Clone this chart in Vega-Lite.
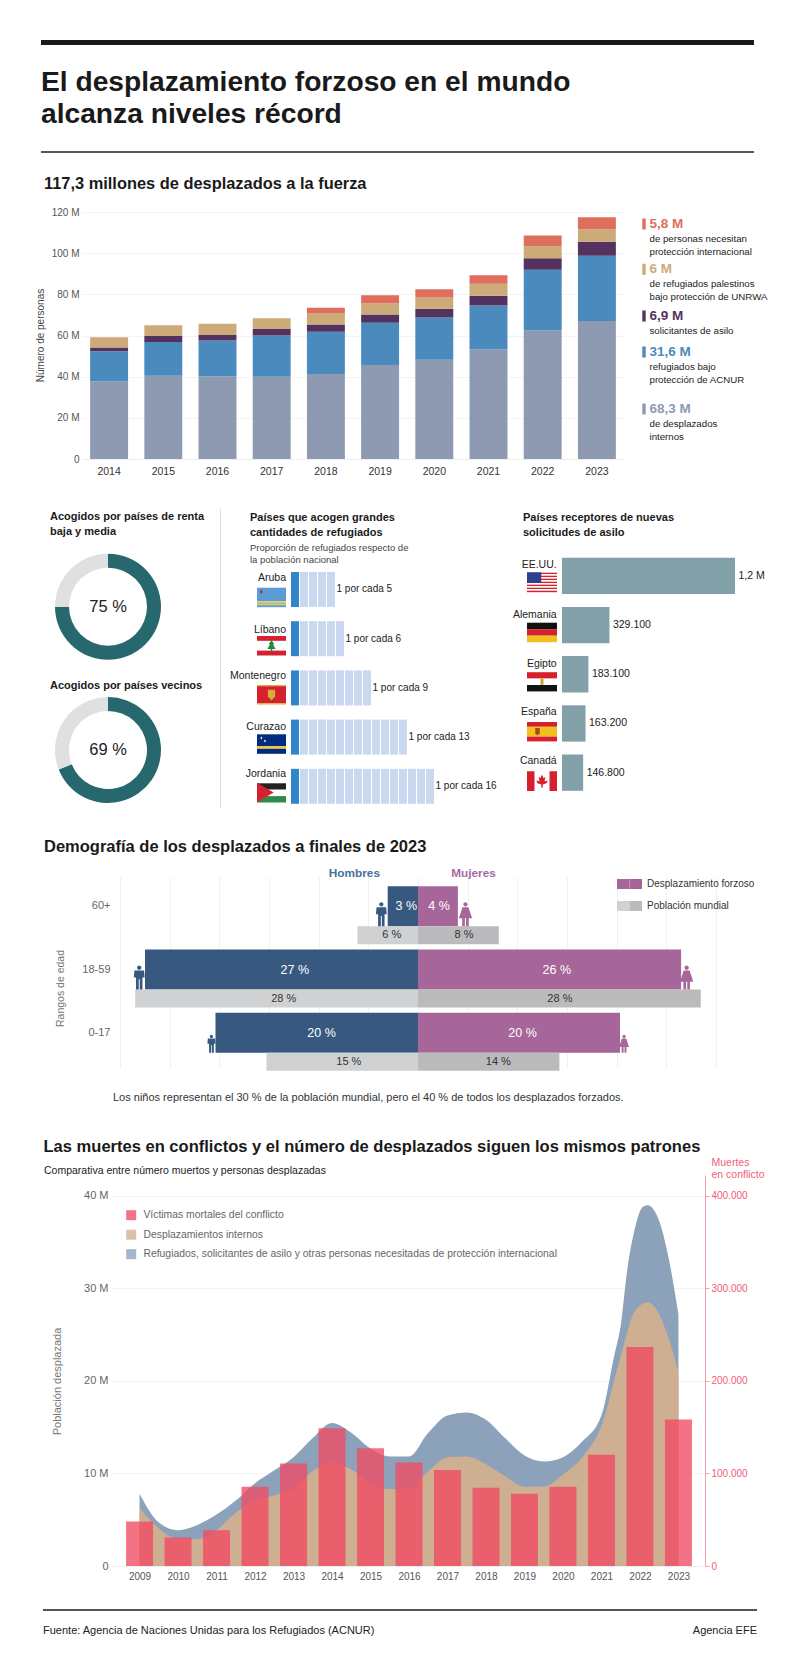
{"$schema":"https://vega.github.io/schema/vega-lite/v6.json","padding":0,"background":"white","spacing":0,"bounds":"flush","resolve":{"scale":{"color":"independent","shape":"independent","fill":"independent"}},"config":{"view":{"stroke":null},"font":"Liberation Sans","title":{"font":"Liberation Sans"},"axis":{"labelFont":"Liberation Sans","titleFont":"Liberation Sans"},"legend":{"labelFont":"Liberation Sans"}},
"vconcat":[
{"width":1,"height":40,"data":{"values":[{}]},"mark":{"type":"text"},"encoding":{"text":{"value":""}}},
{"spacing":0,"bounds":"flush","hconcat":[
 {"width":41,"height":1,"data":{"values":[{}]},"mark":{"type":"text"},"encoding":{"text":{"value":""}}},
 {"width":713,"height":5,"view":{"fill":"#1a1a1a","stroke":null},"data":{"values":[{}]},"mark":{"type":"text"},"encoding":{"text":{"value":""}}}
]},
{"width":1,"height":111,"data":{"values":[{}]},"mark":{"type":"text"},"encoding":{"text":{"value":""}}},
{"spacing":0,"bounds":"flush","hconcat":[
 {"width":41,"height":1,"title":{"text":["El desplazamiento forzoso en el mundo","alcanza niveles récord"],"anchor":"start","frame":"group","baseline":"alphabetic","offset":-5.2,"dx":41,"fontSize":28.2,"lineHeight":32,"fontWeight":"bold","color":"#1a1a1a"},"data":{"values":[{}]},"mark":{"type":"text"},"encoding":{"text":{"value":""}}},
 {"width":713,"height":2,"view":{"fill":"#555555","stroke":null},"data":{"values":[{}]},"mark":{"type":"text"},"encoding":{"text":{"value":""}}}
]},
{"width":1,"height":61,"data":{"values":[{}]},"mark":{"type":"text"},"encoding":{"text":{"value":""}}},
{"spacing":0,"bounds":"flush","resolve":{"scale":{"color":"independent"}},"hconcat":[
 {"width":44,"height":1,"title":{"text":"117,3 millones de desplazados a la fuerza","anchor":"start","frame":"group","baseline":"alphabetic","offset":1.6,"dx":44,"fontSize":16.4,"fontWeight":"bold","color":"#1a1a1a"},"data":{"values":[{}]},"mark":{"type":"text"},"encoding":{"text":{"value":""}}},
 {"width":38,"height":1,"data":{"values":[{}]},"mark":{"type":"text"},"encoding":{"text":{"value":""}}},
 {"width":542,"height":247,
  "data":{"values":[
  {"anio":"2014","categoria":"internos","orden":1,"valor":37.8},{"anio":"2014","categoria":"acnur","orden":2,"valor":14.6},{"anio":"2014","categoria":"asilo","orden":3,"valor":1.8},{"anio":"2014","categoria":"unrwa","orden":4,"valor":5.0},
  {"anio":"2015","categoria":"internos","orden":1,"valor":40.5},{"anio":"2015","categoria":"acnur","orden":2,"valor":16.3},{"anio":"2015","categoria":"asilo","orden":3,"valor":2.9},{"anio":"2015","categoria":"unrwa","orden":4,"valor":5.3},
  {"anio":"2016","categoria":"internos","orden":1,"valor":40.2},{"anio":"2016","categoria":"acnur","orden":2,"valor":17.4},{"anio":"2016","categoria":"asilo","orden":3,"valor":2.6},{"anio":"2016","categoria":"unrwa","orden":4,"valor":5.5},
  {"anio":"2017","categoria":"internos","orden":1,"valor":39.9},{"anio":"2017","categoria":"acnur","orden":2,"valor":20.1},{"anio":"2017","categoria":"asilo","orden":3,"valor":3.1},{"anio":"2017","categoria":"unrwa","orden":4,"valor":5.3},
  {"anio":"2018","categoria":"internos","orden":1,"valor":41.3},{"anio":"2018","categoria":"acnur","orden":2,"valor":20.5},{"anio":"2018","categoria":"asilo","orden":3,"valor":3.5},{"anio":"2018","categoria":"unrwa","orden":4,"valor":5.4},{"anio":"2018","categoria":"proteccion","orden":5,"valor":2.8},
  {"anio":"2019","categoria":"internos","orden":1,"valor":45.7},{"anio":"2019","categoria":"acnur","orden":2,"valor":20.5},{"anio":"2019","categoria":"asilo","orden":3,"valor":4.0},{"anio":"2019","categoria":"unrwa","orden":4,"valor":5.5},{"anio":"2019","categoria":"proteccion","orden":5,"valor":3.8},
  {"anio":"2020","categoria":"internos","orden":1,"valor":48.2},{"anio":"2020","categoria":"acnur","orden":2,"valor":20.6},{"anio":"2020","categoria":"asilo","orden":3,"valor":4.2},{"anio":"2020","categoria":"unrwa","orden":4,"valor":5.5},{"anio":"2020","categoria":"proteccion","orden":5,"valor":4.0},
  {"anio":"2021","categoria":"internos","orden":1,"valor":53.2},{"anio":"2021","categoria":"acnur","orden":2,"valor":21.4},{"anio":"2021","categoria":"asilo","orden":3,"valor":4.7},{"anio":"2021","categoria":"unrwa","orden":4,"valor":5.8},{"anio":"2021","categoria":"proteccion","orden":5,"valor":4.2},
  {"anio":"2022","categoria":"internos","orden":1,"valor":62.4},{"anio":"2022","categoria":"acnur","orden":2,"valor":29.5},{"anio":"2022","categoria":"asilo","orden":3,"valor":5.6},{"anio":"2022","categoria":"unrwa","orden":4,"valor":5.8},{"anio":"2022","categoria":"proteccion","orden":5,"valor":5.3},
  {"anio":"2023","categoria":"internos","orden":1,"valor":67.1},{"anio":"2023","categoria":"acnur","orden":2,"valor":31.7},{"anio":"2023","categoria":"asilo","orden":3,"valor":6.8},{"anio":"2023","categoria":"unrwa","orden":4,"valor":6.0},{"anio":"2023","categoria":"proteccion","orden":5,"valor":5.8}
  ]},
  "mark":{"type":"bar"},
  "encoding":{
   "x":{"field":"anio","type":"ordinal","scale":{"paddingInner":0.3,"paddingOuter":0.15},"axis":{"title":null,"labelAngle":0,"labelFontSize":10.5,"labelColor":"#333333","labelPadding":7,"ticks":false,"domainColor":"#eeeeee"}},
   "y":{"field":"valor","type":"quantitative","stack":"zero","scale":{"domain":[0,120]},"axis":{"values":[0,20,40,60,80,100,120],"labelExpr":"datum.value==0?'0':datum.value+' M'","labelFontSize":10,"labelColor":"#555555","labelPadding":3,"ticks":false,"domain":false,"grid":true,"gridColor":"#f3f3f3","title":"Número de personas","titleFontSize":10,"titleFontWeight":"normal","titleColor":"#444444","titleX":-37,"titleY":123}},
   "color":{"field":"categoria","type":"nominal","legend":null,"scale":{"domain":["internos","acnur","asilo","unrwa","proteccion"],"range":["#8E9AB2","#4A8ABC","#53325F","#CDAB78","#DE6F5C"]}},
   "order":{"field":"orden","type":"quantitative"}
  }},
 {"width":18,"height":1,"data":{"values":[{}]},"mark":{"type":"text"},"encoding":{"text":{"value":""}}},
 {"width":100,"height":247,
  "data":{"values":[
   {"orden":1,"categoria":"proteccion","cifra":"5,8 M","texto":"de personas necesitan\nprotección internacional"},
   {"orden":2,"categoria":"unrwa","cifra":"6 M","texto":"de refugiados palestinos\nbajo protección de UNRWA"},
   {"orden":3,"categoria":"asilo","cifra":"6,9 M","texto":"solicitantes de asilo"},
   {"orden":4,"categoria":"acnur","cifra":"31,6 M","texto":"refugiados bajo\nprotección de ACNUR"},
   {"orden":5,"categoria":"internos","cifra":"68,3 M","texto":"de desplazados\ninternos"}]},
  "encoding":{
   "y":{"field":"orden","type":"quantitative","axis":null,"scale":{"domain":[1,2,3,4,5],"range":[12,57.3,104,140,197]}},
   "color":{"field":"categoria","type":"nominal","legend":null,"scale":{"domain":["internos","acnur","asilo","unrwa","proteccion"],"range":["#8E9AB2","#4A8ABC","#53325F","#CDAB78","#DE6F5C"]}}
  },
  "layer":[
   {"mark":{"type":"rect","width":3.4,"height":11},"encoding":{"x":{"datum":2,"type":"quantitative","axis":null,"scale":{"domain":[0,100],"range":[0,100]}}}},
   {"mark":{"type":"text","align":"left","baseline":"middle","fontSize":13.5,"fontWeight":"bold"},"encoding":{"x":{"datum":7.5,"type":"quantitative"},"text":{"field":"cifra"}}},
   {"mark":{"type":"text","align":"left","baseline":"alphabetic","fontSize":9.7,"lineHeight":13,"lineBreak":"\n","dy":18},"encoding":{"x":{"datum":7.5,"type":"quantitative"},"text":{"field":"texto"},"color":{"value":"#222222"}}}
  ]}
]},
{"width":1,"height":297,"data":{"values":[{}]},"mark":{"type":"text"},"encoding":{"text":{"value":""}}},
{"spacing":0,"bounds":"flush","resolve":{"scale":{"color":"independent","shape":"independent","fill":"independent"}},"hconcat":[
 {"width":50,"height":1,"data":{"values":[{}]},"mark":{"type":"text"},"encoding":{"text":{"value":""}}},
 {"width":116,"height":299,
  "encoding":{"y":{"field":"orden","type":"quantitative","stack":null,"axis":null,"scale":{"domain":[1,2,3,4],"range":[11,97.7,180,241]}}},
  "layer":[
   {"data":{"values":[{"orden":1,"texto":"Acogidos por países de renta\nbaja y media"},{"orden":3,"texto":"Acogidos por países vecinos"}]},
    "mark":{"type":"text","align":"left","baseline":"alphabetic","fontSize":11,"fontWeight":"bold","lineHeight":15,"lineBreak":"\n","color":"#1a1a1a"},
    "encoding":{"x":{"datum":0,"type":"quantitative","axis":null,"scale":{"domain":[0,1],"range":[0,116]}},"text":{"field":"texto"}}},
   {"data":{"values":[{"orden":2,"tipo":"a acogidos","valor":75},{"orden":2,"tipo":"b resto","valor":25},{"orden":4,"tipo":"a acogidos","valor":69},{"orden":4,"tipo":"b resto","valor":31}]},
    "transform":[{"stack":"valor","groupby":["orden"],"sort":[{"field":"tipo"}],"as":["inicio","fin"]}],
    "mark":{"type":"arc","innerRadius":39,"outerRadius":53},
    "encoding":{"x":{"datum":0.5,"type":"quantitative","stack":null},"theta":{"field":"inicio","type":"quantitative","stack":null,"scale":{"domain":[0,100],"range":[0,6.28319]}},"theta2":{"field":"fin"},"color":{"field":"tipo","type":"nominal","legend":null,"scale":{"domain":["a acogidos","b resto"],"range":["#27686E","#E0E0E0"]}}}},
   {"data":{"values":[{"orden":2,"texto":"75 %"},{"orden":4,"texto":"69 %"}]},
    "mark":{"type":"text","align":"center","baseline":"middle","fontSize":16.5,"color":"#222222"},
    "encoding":{"x":{"datum":0.5,"type":"quantitative"},"text":{"field":"texto"}}}
  ]},
 {"width":54,"height":1,"data":{"values":[{}]},"mark":{"type":"text"},"encoding":{"text":{"value":""}}},
 {"width":1,"height":299,"view":{"fill":"#dddddd","stroke":null},"data":{"values":[{}]},"mark":{"type":"text"},"encoding":{"text":{"value":""}}},
 {"width":29,"height":1,"data":{"values":[{}]},"mark":{"type":"text"},"encoding":{"text":{"value":""}}},
 {"width":7,"height":299,
  "encoding":{"y":{"field":"orden","type":"quantitative","axis":null,"scale":{"domain":[1,2,3,4,5,6,7],"range":[11.7,42,69,121,166.7,217.7,265]}}},
  "layer":[
   {"data":{"values":[{"orden":1,"texto":"Países que acogen grandes\ncantidades de refugiados"}]},"mark":{"type":"text","align":"left","baseline":"alphabetic","fontSize":11,"fontWeight":"bold","lineHeight":15,"lineBreak":"\n","color":"#1a1a1a"},"encoding":{"x":{"datum":0,"type":"quantitative","axis":null,"scale":{"domain":[0,1],"range":[0,36]}},"text":{"field":"texto"}}},
   {"data":{"values":[{"orden":2,"texto":"Proporción de refugiados respecto de\nla población nacional"}]},"mark":{"type":"text","align":"left","baseline":"alphabetic","fontSize":9.5,"lineHeight":12,"lineBreak":"\n","color":"#444444"},"encoding":{"x":{"datum":0,"type":"quantitative"},"text":{"field":"texto"}}},
   {"data":{"values":[{"orden":3,"texto":"Aruba"},{"orden":4,"texto":"Líbano"},{"orden":5,"texto":"Montenegro"},{"orden":6,"texto":"Curazao"},{"orden":7,"texto":"Jordania"}]},"mark":{"type":"text","align":"right","baseline":"middle","fontSize":10.5,"color":"#222222"},"encoding":{"x":{"datum":1,"type":"quantitative"},"text":{"field":"texto"}}}
  ]},
 {"width":29,"height":299,
  "layer":[
   {"data":{"values":[
    {"columna":"bandera","fila":1,"franja":"hueco","alto":78.7},
    {"columna":"bandera","fila":2,"franja":"azul claro","alto":13.5},{"columna":"bandera","fila":3,"franja":"amarillo","alto":1.5},{"columna":"bandera","fila":4,"franja":"azul claro","alto":1},{"columna":"bandera","fila":5,"franja":"amarillo","alto":1.5},{"columna":"bandera","fila":6,"franja":"azul claro","alto":2},
    {"columna":"bandera","fila":7,"franja":"hueco","alto":28.8},
    {"columna":"bandera","fila":8,"franja":"rojo","alto":4.9},{"columna":"bandera","fila":9,"franja":"blanco","alto":9.7},{"columna":"bandera","fila":10,"franja":"rojo","alto":4.9},
    {"columna":"bandera","fila":11,"franja":"hueco","alto":29.5},
    {"columna":"bandera","fila":12,"franja":"oro","alto":1.2},{"columna":"bandera","fila":13,"franja":"rojo","alto":17.1},{"columna":"bandera","fila":14,"franja":"oro","alto":1.2},
    {"columna":"bandera","fila":15,"franja":"hueco","alto":29.8},
    {"columna":"bandera","fila":16,"franja":"azul oscuro","alto":12},{"columna":"bandera","fila":17,"franja":"amarillo","alto":2.5},{"columna":"bandera","fila":18,"franja":"azul oscuro","alto":5},
    {"columna":"bandera","fila":19,"franja":"hueco","alto":29.5},
    {"columna":"bandera","fila":20,"franja":"negro","alto":6.4},{"columna":"bandera","fila":21,"franja":"blanco","alto":6.4},{"columna":"bandera","fila":22,"franja":"verde","alto":6.4}
   ]},
   "mark":{"type":"bar"},
   "encoding":{
    "x":{"field":"columna","type":"nominal","axis":null,"scale":{"paddingInner":0,"paddingOuter":0}},
    "y":{"field":"alto","type":"quantitative","stack":"zero","axis":null,"scale":{"domain":[0,299],"range":[0,299]}},
    "order":{"field":"fila","type":"quantitative"},
    "color":{"field":"franja","type":"nominal","legend":null,"scale":{"domain":["hueco","azul claro","amarillo","rojo","blanco","oro","azul oscuro","negro","verde"],"range":["transparent","#5A9BD8","#F2C832","#D5212E","#FFFFFF","#D4AF37","#002B7F","#222222","#2E8B48"]}}
   }},
   {"data":{"values":[
    {"orden":1,"detalle":"estrella aruba","tono":"r"},{"orden":2,"detalle":"cedro","tono":"v"},{"orden":3,"detalle":"escudo","tono":"o"},{"orden":4,"detalle":"estrellas curazao","tono":"b"},{"orden":5,"detalle":"triangulo","tono":"r"}]},
   "mark":{"type":"point","filled":true,"opacity":1,"strokeWidth":0,"size":841},
   "encoding":{
    "y":{"field":"orden","type":"quantitative","axis":null,"scale":{"domain":[1,2,3,4,5],"range":[88.5,137,185.7,234.8,283.5]}},
    "shape":{"field":"detalle","type":"nominal","legend":null,"scale":{"domain":["estrella aruba","cedro","escudo","estrellas curazao","triangulo"],"range":["M-0.7,-0.55L-0.6,-0.4L-0.7,-0.25L-0.8,-0.4Z","M0,-0.4L0.2,-0.12H0.1L0.28,0.2H0.05V0.4H-0.05V0.2H-0.28L-0.1,-0.12H-0.2Z","M-0.25,-0.35H0.25V0.1L0,0.4L-0.25,0.1Z","M-0.7,-0.5L-0.63,-0.4L-0.7,-0.3L-0.77,-0.4ZM-0.45,-0.3L-0.38,-0.2L-0.45,-0.1L-0.52,-0.2Z","M-1,-0.67L0.15,0L-1,0.67Z"]}},
    "fill":{"field":"tono","type":"nominal","legend":null,"scale":{"domain":["r","v","o","b"],"range":["#D5212E","#1E8A3C","#D4AF37","#FFFFFF"]}}
   }}
  ],"resolve":{"scale":{"y":"independent","color":"independent"}}},
 {"width":5,"height":1,"data":{"values":[{}]},"mark":{"type":"text"},"encoding":{"text":{"value":""}}},
 {"width":143,"height":299,
  "encoding":{"y":{"field":"pais","type":"nominal","axis":null,"scale":{"domain":["Aruba","Líbano","Montenegro","Curazao","Jordania"],"range":[63,294.8],"paddingInner":0.289,"paddingOuter":0}},
   "x":{"field":"n","type":"ordinal","axis":null,"scale":{"domain":[1,2,3,4,5,6,7,8,9,10,11,12,13,14,15,16],"paddingInner":0.11,"paddingOuter":0}}},
  "layer":[
   {"data":{"values":[
    {"pais":"Aruba","n":1,"tipo":"refugiado"},{"pais":"Aruba","n":2,"tipo":"poblacion"},{"pais":"Aruba","n":3,"tipo":"poblacion"},{"pais":"Aruba","n":4,"tipo":"poblacion"},{"pais":"Aruba","n":5,"tipo":"poblacion"},
    {"pais":"Líbano","n":1,"tipo":"refugiado"},{"pais":"Líbano","n":2,"tipo":"poblacion"},{"pais":"Líbano","n":3,"tipo":"poblacion"},{"pais":"Líbano","n":4,"tipo":"poblacion"},{"pais":"Líbano","n":5,"tipo":"poblacion"},{"pais":"Líbano","n":6,"tipo":"poblacion"},
    {"pais":"Montenegro","n":1,"tipo":"refugiado"},{"pais":"Montenegro","n":2,"tipo":"poblacion"},{"pais":"Montenegro","n":3,"tipo":"poblacion"},{"pais":"Montenegro","n":4,"tipo":"poblacion"},{"pais":"Montenegro","n":5,"tipo":"poblacion"},{"pais":"Montenegro","n":6,"tipo":"poblacion"},{"pais":"Montenegro","n":7,"tipo":"poblacion"},{"pais":"Montenegro","n":8,"tipo":"poblacion"},{"pais":"Montenegro","n":9,"tipo":"poblacion"},
    {"pais":"Curazao","n":1,"tipo":"refugiado"},{"pais":"Curazao","n":2,"tipo":"poblacion"},{"pais":"Curazao","n":3,"tipo":"poblacion"},{"pais":"Curazao","n":4,"tipo":"poblacion"},{"pais":"Curazao","n":5,"tipo":"poblacion"},{"pais":"Curazao","n":6,"tipo":"poblacion"},{"pais":"Curazao","n":7,"tipo":"poblacion"},{"pais":"Curazao","n":8,"tipo":"poblacion"},{"pais":"Curazao","n":9,"tipo":"poblacion"},{"pais":"Curazao","n":10,"tipo":"poblacion"},{"pais":"Curazao","n":11,"tipo":"poblacion"},{"pais":"Curazao","n":12,"tipo":"poblacion"},{"pais":"Curazao","n":13,"tipo":"poblacion"},
    {"pais":"Jordania","n":1,"tipo":"refugiado"},{"pais":"Jordania","n":2,"tipo":"poblacion"},{"pais":"Jordania","n":3,"tipo":"poblacion"},{"pais":"Jordania","n":4,"tipo":"poblacion"},{"pais":"Jordania","n":5,"tipo":"poblacion"},{"pais":"Jordania","n":6,"tipo":"poblacion"},{"pais":"Jordania","n":7,"tipo":"poblacion"},{"pais":"Jordania","n":8,"tipo":"poblacion"},{"pais":"Jordania","n":9,"tipo":"poblacion"},{"pais":"Jordania","n":10,"tipo":"poblacion"},{"pais":"Jordania","n":11,"tipo":"poblacion"},{"pais":"Jordania","n":12,"tipo":"poblacion"},{"pais":"Jordania","n":13,"tipo":"poblacion"},{"pais":"Jordania","n":14,"tipo":"poblacion"},{"pais":"Jordania","n":15,"tipo":"poblacion"},{"pais":"Jordania","n":16,"tipo":"poblacion"}
   ]},
   "mark":{"type":"rect"},
   "encoding":{"color":{"field":"tipo","type":"nominal","legend":null,"scale":{"domain":["refugiado","poblacion"],"range":["#2F86C8","#C9D8EF"]}}}},
   {"data":{"values":[{"pais":"Aruba","n":5,"texto":"1 por cada 5"},{"pais":"Líbano","n":6,"texto":"1 por cada 6"},{"pais":"Montenegro","n":9,"texto":"1 por cada 9"},{"pais":"Curazao","n":13,"texto":"1 por cada 13"},{"pais":"Jordania","n":16,"texto":"1 por cada 16"}]},
   "mark":{"type":"text","align":"left","baseline":"middle","dx":5.5,"fontSize":10,"color":"#222222"},
   "encoding":{"text":{"field":"texto"}}}
  ]},
 {"width":89,"height":1,"data":{"values":[{}]},"mark":{"type":"text"},"encoding":{"text":{"value":""}}},
 {"width":4,"height":299,
  "encoding":{"y":{"field":"orden","type":"quantitative","axis":null,"scale":{"domain":[1,2,3,4,5,6],"range":[11.7,55.7,106,155,203,252]}}},
  "layer":[
   {"data":{"values":[{"orden":1,"texto":"Países receptores de nuevas\nsolicitudes de asilo"}]},"mark":{"type":"text","align":"left","baseline":"alphabetic","fontSize":11,"fontWeight":"bold","lineHeight":15,"lineBreak":"\n","color":"#1a1a1a"},"encoding":{"x":{"datum":0,"type":"quantitative","axis":null,"scale":{"domain":[0,1],"range":[0,33.7]}},"text":{"field":"texto"}}},
   {"data":{"values":[{"orden":2,"texto":"EE.UU."},{"orden":3,"texto":"Alemania"},{"orden":4,"texto":"Egipto"},{"orden":5,"texto":"España"},{"orden":6,"texto":"Canadá"}]},"mark":{"type":"text","align":"right","baseline":"middle","fontSize":10.5,"color":"#222222"},"encoding":{"x":{"datum":1,"type":"quantitative"},"text":{"field":"texto"}}}
  ]},
 {"width":30,"height":299,
  "layer":[
   {"data":{"values":[
    {"columna":"bandera","fila":1,"franja":"hueco","alto":63.7},
    {"columna":"bandera","fila":2,"franja":"rojo","alto":1.5},{"columna":"bandera","fila":3,"franja":"blanco","alto":1.5},{"columna":"bandera","fila":4,"franja":"rojo","alto":1.5},{"columna":"bandera","fila":5,"franja":"blanco","alto":1.5},{"columna":"bandera","fila":6,"franja":"rojo","alto":1.5},{"columna":"bandera","fila":7,"franja":"blanco","alto":1.5},{"columna":"bandera","fila":8,"franja":"rojo","alto":1.5},{"columna":"bandera","fila":9,"franja":"blanco","alto":1.5},{"columna":"bandera","fila":10,"franja":"rojo","alto":1.5},{"columna":"bandera","fila":11,"franja":"blanco","alto":1.5},{"columna":"bandera","fila":12,"franja":"rojo","alto":1.5},{"columna":"bandera","fila":13,"franja":"blanco","alto":1.5},{"columna":"bandera","fila":14,"franja":"rojo","alto":1.5},
    {"columna":"bandera","fila":15,"franja":"hueco","alto":30.5},
    {"columna":"bandera","fila":16,"franja":"negro","alto":6.5},{"columna":"bandera","fila":17,"franja":"rojo","alto":6.5},{"columna":"bandera","fila":18,"franja":"oro","alto":6.5},
    {"columna":"bandera","fila":19,"franja":"hueco","alto":30},
    {"columna":"bandera","fila":20,"franja":"rojo","alto":6.4},{"columna":"bandera","fila":21,"franja":"blanco","alto":6.4},{"columna":"bandera","fila":22,"franja":"negro","alto":6.4},
    {"columna":"bandera","fila":23,"franja":"hueco","alto":30.6},
    {"columna":"bandera","fila":24,"franja":"rojo","alto":4.8},{"columna":"bandera","fila":25,"franja":"oro","alto":9.8},{"columna":"bandera","fila":26,"franja":"rojo","alto":4.8},
    {"columna":"bandera","fila":27,"franja":"hueco","alto":30},
    {"columna":"bandera","fila":28,"franja":"blanco","alto":19.6}
   ]},
   "mark":{"type":"bar"},
   "encoding":{
    "x":{"field":"columna","type":"nominal","axis":null,"scale":{"paddingInner":0,"paddingOuter":0}},
    "y":{"field":"alto","type":"quantitative","stack":"zero","axis":null,"scale":{"domain":[0,299],"range":[0,299]}},
    "order":{"field":"fila","type":"quantitative"},
    "color":{"field":"franja","type":"nominal","legend":null,"scale":{"domain":["hueco","rojo","blanco","negro","oro"],"range":["transparent","#D5212E","#FFFFFF","#111111","#F2C01E"]}}
   }},
   {"data":{"values":[
    {"orden":1,"detalle":"canton","tono":"azul"},{"orden":3,"detalle":"aguila","tono":"oro"},{"orden":4,"detalle":"escudo","tono":"granate"},{"orden":5,"detalle":"lados","tono":"rojo"},{"orden":5,"detalle":"hoja","tono":"rojo"}]},
   "mark":{"type":"point","filled":true,"opacity":1,"strokeWidth":0,"size":900},
   "encoding":{
    "y":{"field":"orden","type":"quantitative","axis":null,"scale":{"domain":[1,2,3,4,5],"range":[73.2,123.5,172.8,222.7,272.2]}},
    "shape":{"field":"detalle","type":"nominal","legend":null,"scale":{"domain":["canton","aguila","escudo","lados","hoja"],"range":["M-1,-0.66H-0.05V0.05H-1Z","M-0.1,-0.2H0.1V0.2H-0.1Z","M-0.45,-0.25H-0.15V0.1L-0.3,0.25L-0.45,0.1Z","M-1,-0.66H-0.5V0.66H-1ZM0.5,-0.66H1V0.66H0.5Z","M0,-0.45L0.1,-0.22L0.22,-0.28L0.17,0L0.38,-0.05L0.3,0.13L0.05,0.22V0.42H-0.05V0.22L-0.3,0.13L-0.38,-0.05L-0.17,0L-0.22,-0.28L-0.1,-0.22Z"]}},
    "fill":{"field":"tono","type":"nominal","legend":null,"scale":{"domain":["azul","oro","granate","rojo"],"range":["#2E3F8F","#C9A227","#A8452A","#D5212E"]}}
   }}
  ],"resolve":{"scale":{"y":"independent","color":"independent"}}},
 {"width":5,"height":1,"data":{"values":[{}]},"mark":{"type":"text"},"encoding":{"text":{"value":""}}},
 {"width":173,"height":299,
  "data":{"values":[{"pais":"EE.UU.","solicitudes":1200000,"etiqueta":"1,2 M"},{"pais":"Alemania","solicitudes":329100,"etiqueta":"329.100"},{"pais":"Egipto","solicitudes":183100,"etiqueta":"183.100"},{"pais":"España","solicitudes":163200,"etiqueta":"163.200"},{"pais":"Canadá","solicitudes":146800,"etiqueta":"146.800"}]},
  "encoding":{"y":{"field":"pais","type":"nominal","sort":null,"axis":null,"scale":{"domain":["EE.UU.","Alemania","Egipto","España","Canadá"],"range":[48.7,281.8],"paddingInner":0.262,"paddingOuter":0}},"x":{"field":"solicitudes","type":"quantitative","axis":null,"scale":{"domain":[0,1200000]}}},
  "layer":[
   {"mark":{"type":"bar","color":"#82A0A8"}},
   {"mark":{"type":"text","align":"left","baseline":"middle","dx":3.5,"fontSize":10.5,"color":"#222222"},"encoding":{"text":{"field":"etiqueta"}}}
  ]}
]},
{"width":1,"height":364,"data":{"values":[{}]},"mark":{"type":"text"},"encoding":{"text":{"value":""}}},
{"spacing":0,"bounds":"flush","resolve":{"scale":{"color":"independent","shape":"independent","fill":"independent"}},"hconcat":[
 {"width":44,"height":1,"title":{"text":"Demografía de los desplazados a finales de 2023","anchor":"start","frame":"group","baseline":"alphabetic","offset":-0.5,"dx":44,"fontSize":16.5,"fontWeight":"bold","color":"#1a1a1a"},"data":{"values":[{}]},"mark":{"type":"text"},"encoding":{"text":{"value":""}}},
 {"width":71,"height":1,"data":{"values":[{}]},"mark":{"type":"text"},"encoding":{"text":{"value":""}}},
 {"width":502,"height":205,
  "encoding":{
   "y":{"field":"edad","type":"nominal","sort":null,"scale":{"domain":["60+","18-59","0-17"],"range":[11,201],"paddingInner":0,"paddingOuter":0},"axis":{"labelOffset":-9.5,"ticks":false,"domain":false,"labelPadding":5,"labelFontSize":11,"labelColor":"#666666","title":"Rangos de edad","titleFontSize":10.5,"titleFontWeight":"normal","titleColor":"#777777","titleX":-50,"titleY":115}},
   "x":{"field":"pct","type":"quantitative","stack":null,"scale":{"domain":[-30,30],"range":[0,606]},"axis":{"values":[-29.52,-24.6,-19.68,-14.76,-9.84,-4.92,0,4.92,9.84,14.76,19.68,24.6,29.52],"labels":false,"ticks":false,"domain":false,"grid":true,"gridColor":"#f0f0f0","title":null}}
  },
  "layer":[
   {"data":{"values":[{"edad":"60+","tono":"hombres forzoso","pct":-3},{"edad":"60+","tono":"mujeres forzoso","pct":3.95},{"edad":"18-59","tono":"hombres forzoso","pct":-27.03},{"edad":"18-59","tono":"mujeres forzoso","pct":26.05},{"edad":"0-17","tono":"hombres forzoso","pct":-20.05},{"edad":"0-17","tono":"mujeres forzoso","pct":20}]},
    "mark":{"type":"bar","height":40,"yOffset":-9.5},"encoding":{"color":{"field":"tono","type":"nominal","legend":null,"scale":{"domain":["hombres forzoso","mujeres forzoso","hombres mundial","mujeres mundial"],"range":["#37597F","#A66699","#CFD1D3","#BBBBBD"]}}}},
   {"data":{"values":[{"edad":"60+","tono":"hombres mundial","pct":-6},{"edad":"60+","tono":"mujeres mundial","pct":8},{"edad":"18-59","tono":"hombres mundial","pct":-28},{"edad":"18-59","tono":"mujeres mundial","pct":28},{"edad":"0-17","tono":"hombres mundial","pct":-15},{"edad":"0-17","tono":"mujeres mundial","pct":14}]},
    "mark":{"type":"bar","height":18,"yOffset":19.5},"encoding":{"color":{"field":"tono","type":"nominal","legend":null}}},
   {"data":{"values":[{"edad":"60+","texto":"3 %","mitad":-1.16},{"edad":"60+","texto":"4 %","mitad":2.08},{"edad":"18-59","texto":"27 %","mitad":-12.2},{"edad":"18-59","texto":"26 %","mitad":13.74},{"edad":"0-17","texto":"20 %","mitad":-9.55},{"edad":"0-17","texto":"20 %","mitad":10.35}]},
    "mark":{"type":"text","dy":-9.5,"baseline":"middle","fontSize":12.5,"color":"#ffffff"},"encoding":{"x":{"field":"mitad","type":"quantitative"},"text":{"field":"texto"}}},
   {"data":{"values":[{"edad":"60+","texto":"6 %","mitad":-2.6},{"edad":"60+","texto":"8 %","mitad":4.55},{"edad":"18-59","texto":"28 %","mitad":-13.3},{"edad":"18-59","texto":"28 %","mitad":14.05},{"edad":"0-17","texto":"15 %","mitad":-6.85},{"edad":"0-17","texto":"14 %","mitad":7.95}]},
    "mark":{"type":"text","dy":19.5,"baseline":"middle","fontSize":11,"color":"#333333"},"encoding":{"x":{"field":"mitad","type":"quantitative"},"text":{"field":"texto"}}},
   {"data":{"values":[{"edad":"60+","figura":"hombre","sexo":"h","lugar":-3.63},{"edad":"18-59","figura":"hombre","sexo":"h","lugar":-27.6},{"edad":"0-17","figura":"niño","sexo":"h","lugar":-20.45},{"edad":"60+","figura":"mujer","sexo":"m","lugar":4.7},{"edad":"18-59","figura":"mujer","sexo":"m","lugar":26.6},{"edad":"0-17","figura":"niña","sexo":"m","lugar":20.4}]},
    "mark":{"type":"point","filled":true,"opacity":1,"strokeWidth":0,"size":576,"yOffset":-1.5},
    "encoding":{"x":{"field":"lugar","type":"quantitative"},
     "shape":{"field":"figura","type":"nominal","legend":null,"scale":{"domain":["hombre","mujer","niño","niña"],"range":["M0,-1A0.18,0.18,0,1,1,0,-0.64A0.18,0.18,0,1,1,0,-1ZM-0.4,-0.58H0.4L0.45,0H0.27V1H0.04V0.15H-0.04V1H-0.27V0H-0.45Z","M0,-1A0.18,0.18,0,1,1,0,-0.64A0.18,0.18,0,1,1,0,-1ZM-0.25,-0.58H0.25L0.55,0.35H0.27V1H0.05V0.35H-0.05V1H-0.27V0.35H-0.55Z","M0,-0.5A0.135,0.135,0,1,1,0,-0.23A0.135,0.135,0,1,1,0,-0.5ZM-0.3,-0.185H0.3L0.34,0.25H0.2V1H0.03V0.36H-0.03V1H-0.2V0.25H-0.34Z","M0,-0.5A0.135,0.135,0,1,1,0,-0.23A0.135,0.135,0,1,1,0,-0.5ZM-0.19,-0.185H0.19L0.41,0.51H0.2V1H0.04V0.51H-0.04V1H-0.2V0.51H-0.41Z"]}},
     "fill":{"field":"sexo","type":"nominal","legend":null,"scale":{"domain":["h","m"],"range":["#37597F","#A66699"]}}}},
   {"data":{"values":[{"edad":"60+","texto":"Hombres","sexo":"h","lugar":-6.3},{"edad":"60+","texto":"Mujeres","sexo":"m","lugar":5.5}]},
    "mark":{"type":"text","dy":-42.7,"baseline":"middle","fontSize":11.8,"fontWeight":"bold"},
    "encoding":{"x":{"field":"lugar","type":"quantitative"},"text":{"field":"texto"},"fill":{"field":"sexo","type":"nominal","legend":null,"scale":{"domain":["h","m"],"range":["#45709A","#A8689F"]}}}},
   {"data":{"values":[{"edad":"0-17","texto":"Los niños representan el 30 % de la población mundial, pero el 40 % de todos los desplazados forzados.","lugar":-30.2}]},
    "mark":{"type":"text","dy":55.4,"align":"left","baseline":"middle","fontSize":11,"color":"#333333"},
    "encoding":{"x":{"field":"lugar","type":"quantitative"},"text":{"field":"texto"}}}
  ],"resolve":{"scale":{"fill":"independent"}}},
 {"width":25,"height":44,
  "encoding":{"y":{"field":"fila","type":"nominal","sort":null,"axis":null,"scale":{"domain":["Desplazamiento forzoso","Población mundial"],"range":[0,44],"paddingInner":0,"paddingOuter":0}},
   "x":{"field":"parte","type":"nominal","axis":null,"scale":{"domain":["a","b"],"paddingInner":0,"paddingOuter":0}}},
  "layer":[
   {"data":{"values":[{"fila":"Desplazamiento forzoso","parte":"a","tono":"purpura"},{"fila":"Desplazamiento forzoso","parte":"b","tono":"purpura"},{"fila":"Población mundial","parte":"a","tono":"gris claro"},{"fila":"Población mundial","parte":"b","tono":"gris"}]},
    "mark":{"type":"rect","height":10},"encoding":{"color":{"field":"tono","type":"nominal","legend":null,"scale":{"domain":["purpura","gris claro","gris"],"range":["#A66699","#CFD1D3","#BBBBBD"]}}}},
   {"data":{"values":[{"fila":"Desplazamiento forzoso","parte":"b"},{"fila":"Población mundial","parte":"b"}]},
    "mark":{"type":"text","align":"left","baseline":"middle","dx":11.25,"fontSize":10,"color":"#333333"},"encoding":{"text":{"field":"fila"}}}
  ]}
]},
{"width":1,"height":302,"data":{"values":[{}]},"mark":{"type":"text"},"encoding":{"text":{"value":""}}},
{"spacing":0,"bounds":"flush","resolve":{"scale":{"color":"independent"}},"hconcat":[
 {"width":44,"height":1,"title":{"text":"Las muertes en conflictos y el número de desplazados siguen los mismos patrones","anchor":"start","frame":"group","baseline":"alphabetic","offset":0.6,"dx":43.5,"fontSize":16.55,"fontWeight":"bold","color":"#1a1a1a"},"data":{"values":[{}]},"mark":{"type":"text"},"encoding":{"text":{"value":""}}},
 {"width":67,"height":1,"title":{"text":"Comparativa entre número muertos y personas desplazadas","anchor":"start","frame":"group","baseline":"alphabetic","offset":-15,"fontSize":10.5,"fontWeight":"normal","color":"#222222"},"data":{"values":[{}]},"mark":{"type":"text"},"encoding":{"text":{"value":""}}},
 {"width":594,"height":391,
  "layer":[
   {"data":{"values":[
    {"serie":"Refugiados, solicitantes de asilo y otras personas necesitadas de protección internacional","anio":2009,"millones":7.8},{"serie":"Refugiados, solicitantes de asilo y otras personas necesitadas de protección internacional","anio":2009.5,"millones":4.7},{"serie":"Refugiados, solicitantes de asilo y otras personas necesitadas de protección internacional","anio":2010,"millones":3.87},{"serie":"Refugiados, solicitantes de asilo y otras personas necesitadas de protección internacional","anio":2010.5,"millones":4.44},{"serie":"Refugiados, solicitantes de asilo y otras personas necesitadas de protección internacional","anio":2011,"millones":5.56},{"serie":"Refugiados, solicitantes de asilo y otras personas necesitadas de protección internacional","anio":2011.5,"millones":7.07},{"serie":"Refugiados, solicitantes de asilo y otras personas necesitadas de protección internacional","anio":2012,"millones":8.95},{"serie":"Refugiados, solicitantes de asilo y otras personas necesitadas de protección internacional","anio":2012.5,"millones":10.34},{"serie":"Refugiados, solicitantes de asilo y otras personas necesitadas de protección internacional","anio":2013,"millones":11.77},{"serie":"Refugiados, solicitantes de asilo y otras personas necesitadas de protección internacional","anio":2013.5,"millones":13.83},{"serie":"Refugiados, solicitantes de asilo y otras personas necesitadas de protección internacional","anio":2014,"millones":15.45},{"serie":"Refugiados, solicitantes de asilo y otras personas necesitadas de protección internacional","anio":2014.5,"millones":14.4},{"serie":"Refugiados, solicitantes de asilo y otras personas necesitadas de protección internacional","anio":2015,"millones":12.7},{"serie":"Refugiados, solicitantes de asilo y otras personas necesitadas de protección internacional","anio":2015.5,"millones":11.84},{"serie":"Refugiados, solicitantes de asilo y otras personas necesitadas de protección internacional","anio":2016,"millones":11.84},{"serie":"Refugiados, solicitantes de asilo y otras personas necesitadas de protección internacional","anio":2016.5,"millones":14.4},{"serie":"Refugiados, solicitantes de asilo y otras personas necesitadas de protección internacional","anio":2017,"millones":16.28},{"serie":"Refugiados, solicitantes de asilo y otras personas necesitadas de protección internacional","anio":2017.5,"millones":16.6},{"serie":"Refugiados, solicitantes de asilo y otras personas necesitadas de protección internacional","anio":2018,"millones":15.8},{"serie":"Refugiados, solicitantes de asilo y otras personas necesitadas de protección internacional","anio":2018.5,"millones":13.8},{"serie":"Refugiados, solicitantes de asilo y otras personas necesitadas de protección internacional","anio":2019,"millones":11.95},{"serie":"Refugiados, solicitantes de asilo y otras personas necesitadas de protección internacional","anio":2019.5,"millones":11.3},{"serie":"Refugiados, solicitantes de asilo y otras personas necesitadas de protección internacional","anio":2020,"millones":11.77},{"serie":"Refugiados, solicitantes de asilo y otras personas necesitadas de protección internacional","anio":2020.5,"millones":13.46},{"serie":"Refugiados, solicitantes de asilo y otras personas necesitadas de protección internacional","anio":2021,"millones":16.3},{"serie":"Refugiados, solicitantes de asilo y otras personas necesitadas de protección internacional","anio":2021.33,"millones":22.7},{"serie":"Refugiados, solicitantes de asilo y otras personas necesitadas de protección internacional","anio":2021.5,"millones":26},{"serie":"Refugiados, solicitantes de asilo y otras personas necesitadas de protección internacional","anio":2021.67,"millones":32},{"serie":"Refugiados, solicitantes de asilo y otras personas necesitadas de protección internacional","anio":2021.87,"millones":36.5},{"serie":"Refugiados, solicitantes de asilo y otras personas necesitadas de protección internacional","anio":2022.07,"millones":38.8},{"serie":"Refugiados, solicitantes de asilo y otras personas necesitadas de protección internacional","anio":2022.2,"millones":39},{"serie":"Refugiados, solicitantes de asilo y otras personas necesitadas de protección internacional","anio":2022.5,"millones":37.3},{"serie":"Refugiados, solicitantes de asilo y otras personas necesitadas de protección internacional","anio":2022.75,"millones":33.2},{"serie":"Refugiados, solicitantes de asilo y otras personas necesitadas de protección internacional","anio":2023,"millones":27.2},
    {"serie":"Desplazamientos internos","anio":2009,"millones":6.3},{"serie":"Desplazamientos internos","anio":2009.5,"millones":4.06},{"serie":"Desplazamientos internos","anio":2010,"millones":2.93},{"serie":"Desplazamientos internos","anio":2010.5,"millones":2.93},{"serie":"Desplazamientos internos","anio":2011,"millones":3.87},{"serie":"Desplazamientos internos","anio":2011.5,"millones":5.75},{"serie":"Desplazamientos internos","anio":2012,"millones":7.07},{"serie":"Desplazamientos internos","anio":2012.5,"millones":7.63},{"serie":"Desplazamientos internos","anio":2013,"millones":8.38},{"serie":"Desplazamientos internos","anio":2013.5,"millones":10.26},{"serie":"Desplazamientos internos","anio":2014,"millones":11.2},{"serie":"Desplazamientos internos","anio":2014.5,"millones":10.45},{"serie":"Desplazamientos internos","anio":2015,"millones":8.95},{"serie":"Desplazamientos internos","anio":2015.5,"millones":8.3},{"serie":"Desplazamientos internos","anio":2016,"millones":8.38},{"serie":"Desplazamientos internos","anio":2016.5,"millones":10.26},{"serie":"Desplazamientos internos","anio":2017,"millones":11.77},{"serie":"Desplazamientos internos","anio":2017.5,"millones":11.84},{"serie":"Desplazamientos internos","anio":2018,"millones":11},{"serie":"Desplazamientos internos","anio":2018.5,"millones":9.7},{"serie":"Desplazamientos internos","anio":2019,"millones":8.57},{"serie":"Desplazamientos internos","anio":2019.5,"millones":8.57},{"serie":"Desplazamientos internos","anio":2020,"millones":9.9},{"serie":"Desplazamientos internos","anio":2020.5,"millones":11.77},{"serie":"Desplazamientos internos","anio":2021,"millones":15.15},{"serie":"Desplazamientos internos","anio":2021.5,"millones":22.67},{"serie":"Desplazamientos internos","anio":2021.87,"millones":27.56},{"serie":"Desplazamientos internos","anio":2022.2,"millones":28.5},{"serie":"Desplazamientos internos","anio":2022.5,"millones":27.2},{"serie":"Desplazamientos internos","anio":2022.75,"millones":24.55},{"serie":"Desplazamientos internos","anio":2023,"millones":21}
   ]},
   "mark":{"type":"area","interpolate":"monotone"},
   "encoding":{
    "x":{"field":"anio","type":"quantitative","scale":{"domain":[2008.258,2023.69],"nice":false,"zero":false,"padding":0},"axis":{"title":null,"values":[2009,2010,2011,2012,2013,2014,2015,2016,2017,2018,2019,2020,2021,2022,2023],"format":"d","labelFontSize":10,"labelColor":"#555555","labelPadding":5,"ticks":false,"domainColor":"#eeeeee","grid":false}},
    "y":{"field":"millones","type":"quantitative","stack":null,"scale":{"domain":[0,42.27],"nice":false},"axis":{"values":[0,10,20,30,40],"labelExpr":"datum.value==0?'0':datum.value+' M'","labelFontSize":11,"labelColor":"#666666","labelPadding":3,"ticks":false,"domain":false,"grid":true,"gridColor":"#f3f3f3","title":"Población desplazada","titleFontSize":11,"titleFontWeight":"normal","titleColor":"#777777","titleX":-49,"titleY":206}},
    "color":{"field":"serie","type":"nominal","sort":null,"scale":{"domain":["Víctimas mortales del conflicto","Desplazamientos internos","Refugiados, solicitantes de asilo y otras personas necesitadas de protección internacional"],"range":["#F04A62","#CFAF91","#8CA2BA"]},"legend":{"orient":"none","legendX":15,"legendY":35,"title":null,"symbolType":"square","symbolSize":100,"symbolOpacity":1,"symbolStrokeWidth":0,"labelFontSize":10.4,"labelColor":"#666666","labelLimit":500,"rowPadding":8.5,"labelOffset":7}}
   }},
   {"data":{"values":[
    {"serie":"Víctimas mortales del conflicto","anio":2009,"muertes":48000},{"serie":"Víctimas mortales del conflicto","anio":2010,"muertes":30800},{"serie":"Víctimas mortales del conflicto","anio":2011,"muertes":38700},{"serie":"Víctimas mortales del conflicto","anio":2012,"muertes":85700},{"serie":"Víctimas mortales del conflicto","anio":2013,"muertes":110900},{"serie":"Víctimas mortales del conflicto","anio":2014,"muertes":148900},{"serie":"Víctimas mortales del conflicto","anio":2015,"muertes":127400},{"serie":"Víctimas mortales del conflicto","anio":2016,"muertes":112000},{"serie":"Víctimas mortales del conflicto","anio":2017,"muertes":103700},{"serie":"Víctimas mortales del conflicto","anio":2018,"muertes":84600},{"serie":"Víctimas mortales del conflicto","anio":2019,"muertes":78200},{"serie":"Víctimas mortales del conflicto","anio":2020,"muertes":85700},{"serie":"Víctimas mortales del conflicto","anio":2021,"muertes":120300},{"serie":"Víctimas mortales del conflicto","anio":2022,"muertes":236800},{"serie":"Víctimas mortales del conflicto","anio":2023,"muertes":158300}
   ]},
   "mark":{"type":"bar","width":27,"orient":"vertical","opacity":0.78},
   "encoding":{
    "x":{"field":"anio","type":"quantitative"},
    "y":{"field":"muertes","type":"quantitative","stack":null,"scale":{"domain":[0,422700],"nice":false},"axis":{"orient":"right","values":[0,100000,200000,300000,400000],"labelExpr":"replace(format(datum.value,','),',','.')","labelFontSize":10,"labelColor":"#F0607A","labelPadding":2,"tickColor":"#F8A0AE","tickSize":4,"domainColor":"#F8A0AE","grid":false,"title":["Muertes","en conflicto"],"titleAngle":0,"titleAlign":"left","titleBaseline":"alphabetic","titleFontSize":10.5,"titleFontWeight":"normal","titleColor":"#F0607A","titleLineHeight":12,"titleX":6,"titleY":-10}},
    "color":{"field":"serie","type":"nominal"}
   }}
  ],
  "resolve":{"scale":{"y":"independent"},"axis":{"y":"independent"}}}
]},
{"width":1,"height":434,"data":{"values":[{}]},"mark":{"type":"text"},"encoding":{"text":{"value":""}}},
{"spacing":0,"bounds":"flush","hconcat":[
 {"width":43,"height":1,"data":{"values":[{}]},"mark":{"type":"text"},"encoding":{"text":{"value":""}}},
 {"width":714,"height":2,"view":{"fill":"#555555","stroke":null},"data":{"values":[{}]},"mark":{"type":"text"},"encoding":{"text":{"value":""}}}
]},
{"width":1,"height":25,"data":{"values":[{}]},"mark":{"type":"text"},"encoding":{"text":{"value":""}}},
{"spacing":0,"bounds":"flush","hconcat":[
 {"width":43,"height":1,"title":{"text":"Fuente: Agencia de Naciones Unidas para los Refugiados (ACNUR)","anchor":"start","frame":"group","baseline":"alphabetic","offset":-16.5,"dx":43,"fontSize":11,"fontWeight":"normal","color":"#222222"},"data":{"values":[{}]},"mark":{"type":"text"},"encoding":{"text":{"value":""}}},
 {"width":714,"height":1,"title":{"text":"Agencia EFE","anchor":"end","frame":"group","baseline":"alphabetic","offset":-16.5,"fontSize":11,"fontWeight":"normal","color":"#222222"},"data":{"values":[{}]},"mark":{"type":"text"},"encoding":{"text":{"value":""}}}
]},
{"width":1,"height":32,"data":{"values":[{}]},"mark":{"type":"text"},"encoding":{"text":{"value":""}}}
]}
